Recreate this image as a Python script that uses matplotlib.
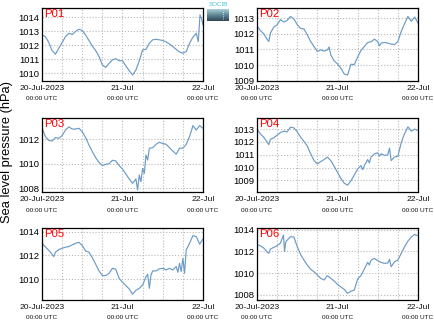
import matplotlib
matplotlib.use("Agg")
import matplotlib.pyplot as plt
import numpy as np
from matplotlib.colors import LinearSegmentedColormap

plt.rcParams['font.family'] = ['Liberation Sans', 'DejaVu Sans']

# ---------------- data (hours since 20-Jul-2023 00:00 UTC, hPa) ----------------
hours_p01 = [0, 1, 2, 3, 4, 5, 6, 7, 8, 9, 10, 11, 12, 13, 14, 15, 16, 17, 18, 19, 20, 21, 22, 23, 24,
             25, 26, 27, 28, 29, 30, 31, 32, 33, 34, 35, 36, 37, 38, 39, 40, 41, 42, 43, 44, 45, 46,
             46.6, 47.1, 47.6, 48]
slp_p01 = [1012.75, 1012.63, 1012.23, 1011.63, 1011.37, 1011.8, 1012.2, 1012.63, 1012.87, 1012.78,
           1013.0, 1013.16, 1013.07, 1012.75, 1012.35, 1011.96, 1011.63, 1011.2, 1010.6, 1010.43,
           1010.72, 1010.96, 1011.05, 1010.9, 1010.9, 1010.53, 1010.19, 1009.88, 1010.24, 1010.9,
           1011.68, 1011.72, 1012.16, 1012.4, 1012.44, 1012.4, 1012.35, 1012.25, 1012.1, 1011.92,
           1011.72, 1011.53, 1011.44, 1011.56, 1012.16, 1012.59, 1012.87, 1012.27, 1014.19, 1013.9,
           1013.47]

hours_p02 = [0, 1, 2, 3, 3.5, 4, 5, 6, 7, 8, 9, 10, 11, 12, 13, 14, 15, 16, 17, 18, 19, 20, 21, 21.5,
             22, 23, 24, 25, 26, 27, 28, 29, 30, 31, 32, 33, 34, 35, 36, 36.5, 37, 38, 39, 40, 41, 42,
             43, 44, 45, 46, 47, 48]
slp_p02 = [1012.51, 1012.19, 1012.0, 1011.65, 1011.5, 1012.04, 1012.42, 1012.57, 1012.9, 1012.74,
           1012.85, 1013.1, 1012.94, 1012.57, 1012.34, 1012.3, 1011.93, 1011.5, 1011.18, 1010.86,
           1010.97, 1010.88, 1010.97, 1011.15, 1010.65, 1010.26, 1010.07, 1009.79, 1009.43, 1009.36,
           1010.05, 1010.03, 1010.5, 1010.93, 1011.18, 1011.44, 1011.48, 1011.65, 1011.5, 1011.22,
           1011.4, 1011.44, 1011.4, 1011.33, 1011.31, 1011.5, 1012.14, 1012.64, 1013.1, 1012.79,
           1013.06, 1012.68]

hours_p03 = [0, 1, 2, 3, 4, 5, 6, 7, 8, 9, 10, 11, 12, 13, 14, 15, 16, 17, 18, 19, 20, 21, 22, 23, 24,
             25, 26, 27, 28, 28.5, 29, 29.5, 30, 30.5, 31, 31.5, 32, 33, 34, 35, 36, 37, 38, 39, 40,
             41, 42, 43, 44, 45, 46, 47, 48]
slp_p03 = [1012.95, 1012.22, 1011.92, 1011.86, 1012.14, 1012.08, 1012.3, 1012.76, 1013.01, 1012.84,
           1012.84, 1012.9, 1012.63, 1012.14, 1011.54, 1011.0, 1010.5, 1010.12, 1009.85, 1009.96,
           1010.01, 1010.29, 1010.23, 1009.85, 1009.58, 1009.17, 1008.76, 1008.41, 1008.76, 1007.86,
           1009.09, 1008.54, 1009.63, 1009.22, 1010.72, 1010.31, 1011.27, 1011.32, 1011.59, 1011.76,
           1011.65, 1011.6, 1011.32, 1011.05, 1010.78, 1011.27, 1011.27, 1011.59, 1012.22, 1013.12,
           1012.76, 1013.12, 1012.9]

hours_p04 = [0, 1, 2, 3, 3.5, 4, 5, 6, 7, 8, 9, 10, 11, 12, 13, 14, 15, 16, 17, 18, 19, 20, 21, 22,
             23, 24, 25, 26, 27, 28, 29, 30, 31, 31.5, 32, 33, 33.5, 34, 35, 36, 36.5, 37, 38, 39,
             39.5, 40, 41, 42, 43, 44, 45, 46, 47, 48]
slp_p04 = [1013.0, 1012.63, 1012.37, 1012.0, 1011.79, 1012.21, 1012.32, 1012.53, 1012.74, 1012.84,
           1012.79, 1013.16, 1013.1, 1012.79, 1012.37, 1012.05, 1011.68, 1011.08, 1010.55, 1010.29,
           1010.47, 1010.63, 1010.82, 1010.55, 1010.11, 1009.63, 1009.16, 1008.79, 1008.63, 1008.97,
           1009.42, 1009.89, 1010.16, 1009.84, 1010.16, 1010.63, 1010.37, 1010.82, 1011.08, 1011.16,
           1010.9, 1011.08, 1010.95, 1011.0, 1011.53, 1010.55, 1010.82, 1010.89, 1011.95, 1012.66,
           1013.18, 1012.84, 1013.0, 1012.9]

hours_p05 = [0, 1, 2, 3, 3.5, 4, 5, 6, 7, 8, 9, 10, 11, 12, 13, 14, 15, 16, 17, 18, 19, 20, 21, 22,
             23, 24, 25, 26, 27, 28, 29, 30, 31, 31.5, 32, 32.5, 33, 34, 35, 36, 37, 38, 39, 40,
             40.5, 41, 41.5, 42, 42.5, 43, 44, 45, 46, 47, 48]
slp_p05 = [1013.02, 1012.71, 1012.43, 1012.1, 1011.9, 1012.27, 1012.49, 1012.6, 1012.69, 1012.74,
           1012.88, 1013.02, 1013.1, 1012.83, 1012.38, 1012.27, 1011.82, 1011.26, 1010.7, 1010.31,
           1010.31, 1010.5, 1010.92, 1010.84, 1010.08, 1009.75, 1009.47, 1009.19, 1008.74, 1009.08,
           1009.24, 1009.52, 1010.22, 1010.42, 1009.24, 1010.36, 1010.7, 1010.7, 1010.87, 1010.92,
           1010.78, 1010.92, 1010.78, 1011.06, 1010.59, 1011.34, 1010.64, 1011.76, 1010.5, 1012.46,
           1013.02, 1013.66, 1013.58, 1012.94, 1013.38]

hours_p06 = [0, 1, 2, 3, 3.5, 4, 5, 6, 7, 7.9, 8.2, 8.6, 9, 10, 11, 12, 13, 14, 15, 16, 17, 18, 19,
             20, 21, 22, 23, 24, 25, 26, 27, 28, 29, 30, 31, 32, 33, 33.5, 34, 35, 36, 37, 38, 39,
             39.5, 40, 41, 42, 43, 44, 45, 46, 47, 48]
slp_p06 = [1012.65, 1012.53, 1012.32, 1011.98, 1011.83, 1012.22, 1012.38, 1012.53, 1012.78, 1013.51,
           1011.98, 1012.9, 1013.05, 1013.36, 1013.33, 1012.44, 1011.73, 1011.21, 1010.76, 1010.36,
           1010.14, 1009.84, 1009.53, 1009.38, 1009.78, 1009.53, 1009.29, 1008.98, 1008.74, 1008.52,
           1008.15, 1008.34, 1008.46, 1009.47, 1009.78, 1010.39, 1011.0, 1010.76, 1011.21, 1011.37,
           1011.15, 1011.0, 1010.91, 1010.94, 1011.28, 1010.6, 1011.06, 1011.21, 1011.83, 1012.44,
           1012.96, 1013.33, 1013.57, 1013.45]

station_names = ["P01", "P02", "P03", "P04", "P05", "P06"]
x_tick_hours = [0, 24, 48]
x_tick_labels = ["20-Jul-2023", "21-Jul", "22-Jul"]
x_tick_sublabels = ["00:00 UTC", "00:00 UTC", "00:00 UTC"]
y_ticks = [
    [1010, 1011, 1012, 1013, 1014],
    [1009, 1010, 1011, 1012, 1013],
    [1008, 1010, 1012],
    [1009, 1010, 1011, 1012, 1013],
    [1010, 1012, 1014],
    [1008, 1010, 1012, 1014],
]
y_limits = [
    (1009.45, 1014.68),
    (1008.98, 1013.64),
    (1007.7, 1013.74),
    (1008.1, 1013.87),
    (1008.26, 1014.3),
    (1007.54, 1014.16),
]
y_label = "Sea level pressure (hPa)"

series_hours = [hours_p01, hours_p02, hours_p03, hours_p04, hours_p05, hours_p06]
series_slp = [slp_p01, slp_p02, slp_p03, slp_p04, slp_p05, slp_p06]

# ---------------- figure ----------------
W, H = 435, 327
fig = plt.figure(figsize=(W / 100, H / 100), dpi=100)

col_px = [(42, 203), (257, 418)]
row_px = [(8, 81), (118, 192), (228, 300)]

line_color = "#6b9bc6"

for i in range(6):
    r, c = divmod(i, 2)
    l, rgt = col_px[c]
    t, b = row_px[r]
    ax = fig.add_axes([l / W, 1 - b / H, (rgt - l) / W, (b - t) / H])
    ax.plot(series_hours[i], series_slp[i], color=line_color, lw=0.85)
    ax.set_xlim(0, 48)
    ax.set_ylim(*y_limits[i])
    ax.set_yticks(y_ticks[i])
    ax.set_yticklabels([str(v) for v in y_ticks[i]], fontsize=6.8)
    ax.set_xticks(x_tick_hours)
    ax.set_xticklabels([])
    ax.set_xticks(np.arange(6, 48, 6), minor=True)
    ax.tick_params(axis='both', which='both', length=0, pad=2)
    ax.grid(True, which='major', axis='y', color='#b8b8b8', ls=':', lw=0.8)
    ax.grid(True, which='both', axis='x', color='#b8b8b8', ls=':', lw=0.8)
    for sp in ax.spines.values():
        sp.set_color('black')
        sp.set_linewidth(0.9)
    for xh, lab, sub in zip(x_tick_hours, x_tick_labels, x_tick_sublabels):
        ax.text(xh, -0.06, lab, transform=ax.get_xaxis_transform(), ha='center', va='top',
                fontsize=6.1, color='#111111')
        ax.text(xh, -0.21, sub, transform=ax.get_xaxis_transform(), ha='center', va='top',
                fontsize=4.6, color='#111111')
    ax.text(0.012, 0.985, station_names[i], transform=ax.transAxes, ha='left', va='top',
            fontsize=8.2, color='red')

fig.text(7 / W, 1 - 152 / H, y_label, rotation=90, ha='center', va='center', fontsize=9.3)

# logo (SOCIB-like badge)
lax = fig.add_axes([207 / W, 1 - 21 / H, 22 / W, 12 / H])
grad = np.linspace(0, 1, 50).reshape(-1, 1)
cmap = LinearSegmentedColormap.from_list("logo", ["#a9d0da", "#5e8796", "#2e4756"])
lax.imshow(grad, aspect='auto', cmap=cmap, extent=(0, 1, 0, 1), origin='upper')
lax.plot([0.72, 0.72], [0.2, 0.9], color='white', ls=':', lw=0.6)
lax.set_xlim(0, 1)
lax.set_ylim(0, 1)
lax.axis('off')
fig.text(218 / W, 1 - 5 / H, "SOCIB", ha='center', va='center', fontsize=4.5, color='#3fc0d8')

fig.savefig("out.png", dpi=100)
